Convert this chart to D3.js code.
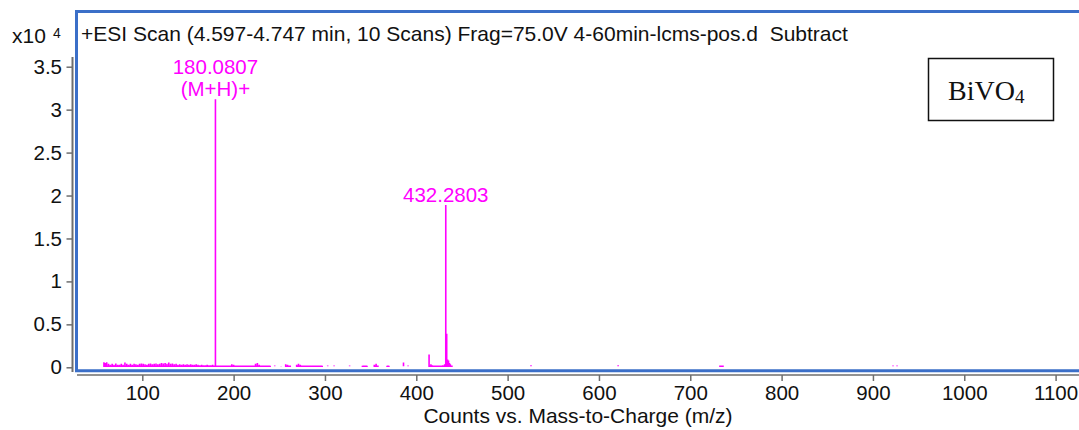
<!DOCTYPE html>
<html>
<head>
<meta charset="utf-8">
<script src="https://cdn.jsdelivr.net/npm/d3@7"></script>
<style>
  body { margin: 0; background: #fff; }
  text { font-family: "Liberation Sans", Arial, sans-serif; }
</style>
</head>
<body>
<svg id="chart"></svg>
<script>
const width = 1079;
const height = 430;

// axis ticks
const xTicks = [100, 200, 300, 400, 500, 600, 700, 800, 900, 1000, 1100];
const yTicks = [0, 0.5, 1, 1.5, 2, 2.5, 3, 3.5];

// labelled peaks (intensity in units of 10^4 counts)
const peakMz = [180.0807, 432.2803];
const peakInt = [3.12, 1.89];
const peakText = [["180.0807", "(M+H)+"], ["432.2803"]];

// small ions / noise
const noiseMz = [
  58, 59.5, 61, 63, 65, 67, 69, 71, 73, 75, 77, 79, 81, 83, 85, 87, 89, 91, 93, 95,
  97, 99, 101, 103, 105, 107, 109, 111, 113, 115, 117, 119, 121, 123, 125, 127, 129,
  131, 133, 135, 137, 139, 141, 143, 145, 147, 149, 151, 153, 155, 157, 159, 161, 163,
  165, 167, 169, 171, 173, 175, 177,
  182, 184, 187, 190, 193, 196, 198, 200, 203, 206, 209, 212, 215, 218, 221, 224, 226,
  228, 231, 234, 237, 240, 245, 252, 257, 259, 262, 269, 271, 273, 276, 279, 282, 285,
  288, 291, 294, 297, 303, 310, 327, 341, 343, 346, 354, 356, 358, 368, 370, 386, 391,
  414, 416, 417.5, 419, 421, 424, 427, 429, 431, 433.3, 434.3, 435.3, 436.3, 437.3, 439,
  525.6, 621, 732.5, 735.8, 922, 926.4
];
const noiseInt = [
  0.06, 0.05, 0.06, 0.04, 0.03, 0.04, 0.03, 0.045, 0.03, 0.03, 0.04, 0.03, 0.055, 0.04, 0.03, 0.04, 0.03, 0.04, 0.035, 0.03,
  0.04, 0.045, 0.04, 0.035, 0.03, 0.04, 0.045, 0.035, 0.04, 0.045, 0.035, 0.04, 0.05, 0.045, 0.05, 0.04, 0.055,
  0.04, 0.045, 0.035, 0.04, 0.03, 0.035, 0.03, 0.035, 0.03, 0.035, 0.03, 0.035, 0.03, 0.03, 0.035, 0.03, 0.025,
  0.03, 0.025, 0.025, 0.03, 0.025, 0.025, 0.03,
  0.02, 0.015, 0.018, 0.015, 0.018, 0.015, 0.035, 0.03, 0.018, 0.015, 0.018, 0.015, 0.015, 0.018, 0.015, 0.04, 0.05,
  0.03, 0.018, 0.015, 0.015, 0.018, 0.02, 0.015, 0.035, 0.03, 0.02, 0.03, 0.04, 0.03, 0.018, 0.018, 0.018, 0.015,
  0.018, 0.018, 0.015, 0.018, 0.02, 0.02, 0.02, 0.018, 0.02, 0.018, 0.03, 0.04, 0.02, 0.018, 0.018, 0.055, 0.02,
  0.15, 0.035, 0.025, 0.02, 0.018, 0.02, 0.02, 0.025, 0.035, 0.39, 0.09, 0.08, 0.05, 0.035, 0.02,
  0.025, 0.025, 0.02, 0.02, 0.02, 0.02
];

const svg = d3.select("#chart")
  .attr("width", width)
  .attr("height", height)
  .attr("viewBox", [0, 0, width, height]);

const x = d3.scaleLinear().domain([100, 1100]).range([142.3, 1055.6]);
const y = d3.scaleLinear().domain([0, 3.5]).range([367.3, 66.7]);

const blue = "#3b6fc8";
const grey = "#6e6e6e";
const magenta = "#ff00ff";

// grey axes sitting outside the blue frame
const xAxis = svg.append("g")
  .attr("transform", "translate(0,375)")
  .call(d3.axisBottom(x).tickValues(xTicks).tickFormat(d3.format("d"))
    .tickSize(6).tickPadding(4).tickSizeOuter(0));
xAxis.select(".domain").remove();
xAxis.append("line")
  .attr("x1", 77).attr("x2", width)
  .attr("stroke", grey).attr("stroke-width", 1.5);

const yAxis = svg.append("g")
  .attr("transform", "translate(72.5,0)")
  .call(d3.axisLeft(y).tickValues(yTicks).tickFormat(d3.format(""))
    .tickSize(6).tickPadding(4.5).tickSizeOuter(0));
yAxis.select(".domain").remove();
yAxis.append("line")
  .attr("y1", 57).attr("y2", 372)
  .attr("stroke", grey).attr("stroke-width", 2);

[xAxis, yAxis].forEach(a => {
  a.selectAll(".tick line").attr("stroke", grey).attr("stroke-width", 1.5);
  a.selectAll(".tick text").attr("fill", "#111").attr("font-size", 20.5);
});

// blue plot frame (open on the right, it runs off the picture)
svg.append("path")
  .attr("d", `M${width},11.5 H76.5 V370.8 H${width}`)
  .attr("fill", "none")
  .attr("stroke", blue)
  .attr("stroke-width", 3);

// spectrum as sticks joined along the baseline
const base = 0.012;
const pts = noiseMz.map((m, i) => [m, noiseInt[i]])
  .concat(peakMz.map((m, i) => [m, peakInt[i]]))
  .sort((a, b) => a[0] - b[0]);
let d = "";
pts.forEach((p, i) => {
  const px = x(p[0]);
  const prev = pts[i - 1];
  d += (!prev || p[0] - prev[0] > 4 ? "M" : "L") + px + "," + y(base);
  d += "L" + px + "," + y(p[1]) + "L" + px + "," + y(base);
});
svg.append("path")
  .attr("d", d)
  .attr("fill", "none")
  .attr("stroke", magenta)
  .attr("stroke-width", 1.6);

// peak labels
peakMz.forEach((m, i) => {
  const lines = peakText[i];
  lines.forEach((t, j) => {
    svg.append("text")
      .attr("x", x(m))
      .attr("y", y(peakInt[i]) - 3 - (lines.length - 1 - j) * 22)
      .attr("text-anchor", "middle")
      .attr("font-size", 20.5)
      .attr("fill", magenta)
      .text(t);
  });
});

// header
svg.append("text")
  .attr("x", 81).attr("y", 40.5)
  .attr("font-size", 21)
  .attr("fill", "#111")
  .style("white-space", "pre")
  .text("+ESI Scan (4.597-4.747 min, 10 Scans) Frag=75.0V 4-60min-lcms-pos.d  Subtract");

// y multiplier
svg.append("text").attr("x", 12).attr("y", 43.3).attr("fill", "#111").attr("font-size", 21).text("x10");
svg.append("text").attr("x", 53).attr("y", 38.3).attr("fill", "#111").attr("font-size", 14).text("4");

// x axis title
svg.append("text")
  .attr("x", 578).attr("y", 422.5)
  .attr("text-anchor", "middle")
  .attr("font-size", 21)
  .attr("fill", "#111")
  .text("Counts vs. Mass-to-Charge (m/z)");

// sample box
svg.append("rect")
  .attr("x", 928.5).attr("y", 58.5)
  .attr("width", 125).attr("height", 62)
  .attr("fill", "#fff")
  .attr("stroke", "#111")
  .attr("stroke-width", 1.5);
const box = svg.append("text")
  .attr("x", 948).attr("y", 100)
  .style("font-family", "'Liberation Serif', 'Times New Roman', serif")
  .attr("font-size", 28)
  .attr("fill", "#111");
box.append("tspan").text("BiVO");
box.append("tspan").attr("font-size", 19).attr("dy", 3).text("4");
</script>
</body>
</html>
